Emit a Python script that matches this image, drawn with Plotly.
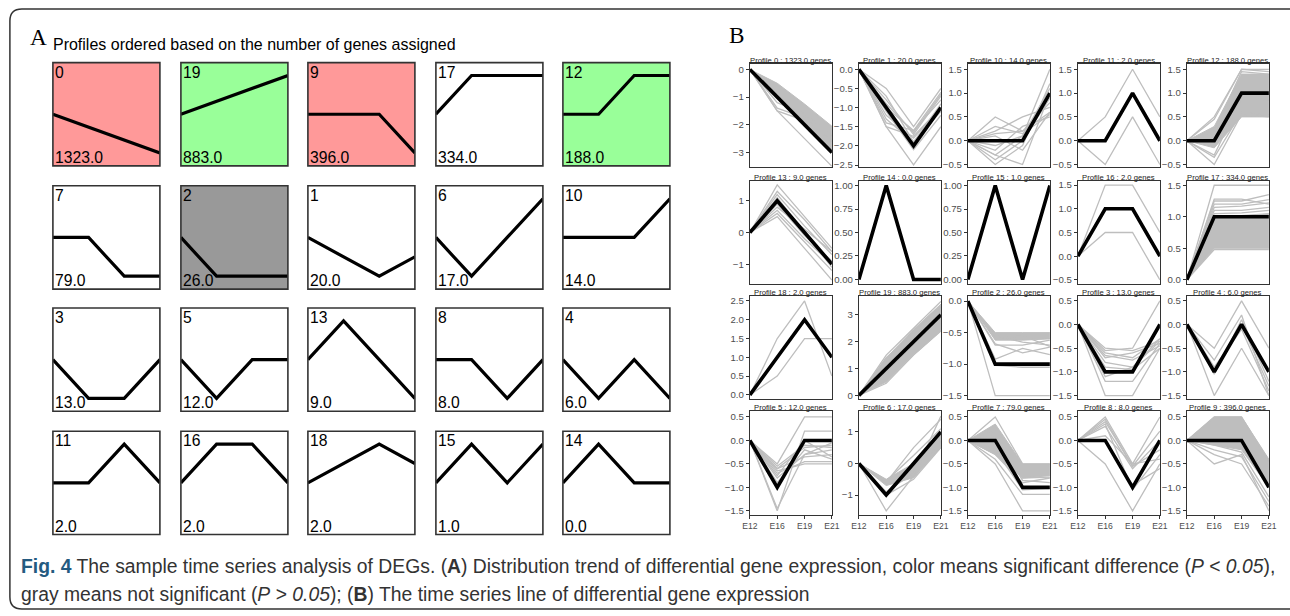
import plotly.graph_objects as go

# The photographed page is squeezed horizontally (x_photo = 8.1 + 0.9876 * x_page),
# while the vertical axis is kept as is; reference x positions are mapped through it.
W, H = 1290, 616
S = 0.9876
OX = 8.1


def fx(x):
    return ((x - OX) / S) / W


def fy(y):
    return 1 - y / H


def k(v):
    return v / S


time_points = ["E12", "E16", "E19", "E21"]

profile_models = {
    0: [0, -1, -2, -3], 1: [0, -1, -2, -1], 2: [0, -1, -1, -1], 3: [0, -1, -1, 0],
    4: [0, -1, 0, -1], 5: [0, -1, 0, 0], 6: [0, -1, 0, 1], 7: [0, 0, -1, -1],
    8: [0, 0, -1, 0], 9: [0, 0, 0, -1], 10: [0, 0, 0, 1], 11: [0, 0, 1, 0],
    12: [0, 0, 1, 1], 13: [0, 1, 0, -1], 14: [0, 1, 0, 0], 15: [0, 1, 0, 1],
    16: [0, 1, 1, 0], 17: [0, 1, 1, 1], 18: [0, 1, 2, 1], 19: [0, 1, 2, 3],
}

panel_a_ids = [0, 19, 9, 17, 12, 7, 2, 1, 6, 10, 3, 5, 13, 8, 4, 11, 16, 18, 15, 14]
panel_a_counts = [1323.0, 883.0, 396.0, 334.0, 188.0, 79.0, 26.0, 20.0, 17.0, 14.0,
                  13.0, 12.0, 9.0, 8.0, 6.0, 2.0, 2.0, 2.0, 1.0, 0.0]
panel_a_status = ["down", "up", "down", "none", "up", "none", "ns", "none", "none", "none",
                  "none", "none", "none", "none", "none", "none", "none", "none", "none", "none"]
status_colors = {"down": "#FF9999", "up": "#99FF99", "ns": "#999999", "none": "#FFFFFF"}

panel_b_ids = [0, 1, 10, 11, 12, 13, 14, 15, 16, 17, 18, 19, 2, 3, 4, 5, 6, 7, 8, 9]

gene_bands = {
    0: ([0, -0.5, -1.25, -2.05], [0, -1.05, -2.05, -3.0]),
    12: ([0, 0.3, 1.4, 1.4], [0, -0.15, 0.5, 0.5]),
    17: ([0, 1.02, 1.02, 1.05], [0, 0.5, 0.5, 0.5]),
    19: ([0, 1.4, 2.45, 3.4], [0, 0.5, 1.5, 2.4]),
    2: ([0, -0.5, -0.5, -0.5], [0, -0.62, -0.62, -0.6]),
    6: ([0, -0.5, 0.0, 1.0], [0, -0.7, -0.45, 0.5]),
    7: ([0, 0.35, -0.5, -0.5], [0, -0.3, -0.8, -0.75]),
    9: ([0, 0.5, 0.5, -0.4], [0, -0.1, -0.2, -1.0]),
}

gene_lines = {
    0: [[0, -1.5, -2.5, -3.5], [0, -1.4, -1.75, -2.6], [0, -1.5, -1.85, -3.0], [0, -1.2, -1.6, -2.4]],
    1: [[0, -0.5, -1.5, -0.5], [0, -1.5, -2.5, -1.5], [0, -1.5, -1.75, -1.0], [0, -1.4, -1.6, -0.6],
        [0, -1.0, -1.6, -0.8], [0, -0.8, -1.7, -0.7], [0, -1.2, -1.8, -1.0], [0, -0.7, -1.9, -1.1],
        [0, -1.3, -1.9, -0.9], [0, -1.1, -2.1, -1.2], [0, -0.9, -1.65, -0.65]],
    10: [[0, 0.5, 0.2, 0.6], [0, 0.15, 0.2, 0.8], [0, 0.2, 0.5, 0.7], [0, -0.3, 0.1, 1.5],
         [0, -0.5, -0.1, 1.2], [0, -0.3, -0.5, 1.0], [0, -0.1, 0.1, 1.1], [0, 0.1, -0.2, 0.6],
         [0, -0.2, 0.3, 0.5], [0, -0.4, 0.0, 0.9], [0, 0.3, 0.15, 0.55]],
    11: [[0, 0.5, 1.5, 0.5], [0, -0.5, 0.5, -0.5]],
    12: [[0, 0.5, 1.5, 1.5], [0, 0.45, 1.5, 1.45], [0, -0.5, 0.55, 0.5], [0, -0.35, 0.6, 0.55],
         [0, -0.3, 0.9, 0.85], [0, 0.2, 1.45, 1.4]],
    13: [[0, 1.5, 0.5, -0.5], [0, 1.3, 0.4, -0.6], [0, 1.2, 0.2, -0.7], [0, 0.8, 0.1, -0.6],
         [0, 0.7, -0.2, -1.0], [0, 0.6, -0.3, -1.2], [0, 0.5, -0.5, -1.5], [0, 1.1, 0.0, -1.1],
         [0, 0.9, -0.1, -0.9]],
    14: [],
    15: [],
    16: [[0, 1.5, 1.5, 0.5], [0, 0.5, 0.5, -0.5]],
    17: [[0, 1.5, 1.5, 1.5], [0, 1.25, 1.25, 1.35], [0, 1.2, 1.2, 1.27], [0, 1.15, 1.17, 1.22],
         [0, 1.1, 1.1, 1.15], [0, 1.05, 1.06, 1.1], [0, 1.28, 1.28, 1.2], [0, 0.48, 0.48, 0.48]],
    18: [[0, 1.5, 2.5, 0.5], [0, 0.5, 1.5, 1.5]],
    19: [[0, 1.5, 2.5, 3.5], [0, 1.4, 2.3, 3.3], [0, 0.45, 1.5, 2.4]],
    2: [[0, -1.5, -1.5, -1.5], [0, -0.7, -0.7, -0.62], [0, -0.92, -0.75, -0.85], [0, -0.68, -0.82, -0.73],
        [0, -1.02, -1.05, -1.05], [0, -0.55, -0.65, -0.7], [0, -0.6, -0.55, -0.72]],
    3: [[0, -1.5, -1.5, -0.5], [0, -1.2, -1.2, -0.4], [0, -0.55, -0.5, 0.5], [0, -0.6, -0.7, -0.3],
        [0, -0.5, -0.55, -0.35], [0, -0.7, -0.6, -0.4], [0, -0.8, -0.9, -0.3], [0, -0.9, -0.95, -0.5],
        [0, -0.65, -0.75, -0.45], [0, -1.1, -0.9, -0.35]],
    4: [[0, -0.5, 0.5, -0.5], [0, -1.5, -0.5, -1.5], [0, -0.75, 0.2, -1.5], [0, -1.05, 0.1, -1.2],
        [0, -0.9, -0.1, -1.4], [0, -1.0, 0.0, -1.3]],
    5: [[0, -0.5, 0.5, 0.5], [0, -1.5, 0.2, 0.2], [0, -1.45, -0.3, -0.05], [0, -0.6, -0.35, -0.3],
        [0, -0.7, -0.45, -0.45], [0, -0.65, -0.5, -0.5], [0, -0.8, -0.3, -0.2], [0, -0.55, -0.1, -0.15],
        [0, -0.75, 0.0, -0.35], [0, -0.9, -0.2, -0.4], [0, -0.6, -0.15, -0.1]],
    6: [[0, -1.5, -0.4, 1.5], [0, -0.6, 0.5, 1.4], [0, -1.0, -0.5, 0.5], [0, -0.55, 0.25, 1.1],
        [0, -0.9, -0.3, 0.7]],
    7: [[0, 0.5, -0.5, -0.5], [0, -0.5, -1.5, -1.5], [0, -0.4, -1.15, -1.15], [0, -0.2, -1.05, -1.02],
        [0, 0.1, -0.85, -0.9], [0, -0.3, -0.9, -0.8], [0, 0.2, -0.8, -0.78]],
    8: [[0, 0.5, -0.5, 0.5], [0, -0.5, -1.5, -0.5], [0, 0.45, -0.55, 0.2], [0, 0.3, -0.6, 0.0],
        [0, 0.35, -1.05, -0.3], [0, 0.1, -0.5, -0.4], [0, 0.0, -0.95, -0.6], [0, 0.4, -0.55, -0.2]],
    9: [[0, -0.5, -0.3, -1.5], [0, -0.3, -0.5, -1.4], [0, -0.2, -0.35, -1.3], [0, 0.5, 0.5, -0.45],
        [0, -0.1, -0.25, -1.2]],
}

b_yrange = {
    0: [-3.52, 0.21], 1: [-2.55, 0.15], 10: [-0.55, 1.62], 11: [-0.55, 1.62], 12: [-0.55, 1.62],
    13: [-1.63, 1.63], 14: [-0.05, 1.05], 15: [-0.05, 1.05], 16: [-0.59, 1.59], 17: [-0.07, 1.57],
    18: [-0.12, 2.63], 19: [-0.15, 3.70], 2: [-1.56, 0.08], 3: [-1.58, 0.6], 4: [-1.58, 0.6],
    5: [-1.58, 0.62], 6: [-1.62, 1.65], 7: [-1.58, 0.62], 8: [-1.58, 0.62], 9: [-1.58, 0.62],
}
b_ticks = {
    0: ([0, -1, -2, -3], 0), 1: ([0, -0.5, -1, -1.5, -2, -2.5], 1),
    10: ([-0.5, 0, 0.5, 1, 1.5], 1), 11: ([-0.5, 0, 0.5, 1, 1.5], 1), 12: ([-0.5, 0, 0.5, 1, 1.5], 1),
    13: ([-1, 0, 1], 0), 14: ([0, 0.25, 0.5, 0.75, 1], 2), 15: ([0, 0.25, 0.5, 0.75, 1], 2),
    16: ([-0.5, 0, 0.5, 1, 1.5], 1), 17: ([0, 0.5, 1, 1.5], 1),
    18: ([0, 0.5, 1, 1.5, 2, 2.5], 1), 19: ([0, 1, 2, 3], 0),
    2: ([0, -0.5, -1, -1.5], 1), 3: ([0.5, 0, -0.5, -1, -1.5], 1), 4: ([0.5, 0, -0.5, -1, -1.5], 1),
    5: ([0.5, 0, -0.5, -1, -1.5], 1), 6: ([-1, 0, 1], 0), 7: ([0.5, 0, -0.5, -1, -1.5], 1),
    8: ([0.5, 0, -0.5, -1, -1.5], 1), 9: ([0.5, 0, -0.5, -1, -1.5], 1),
}

# geometry in reference pixels
A_LEFT = [53, 181, 308, 436, 563]
A_TOP = [62, 186, 309, 433]
A_W, A_H = 107, 104
B_LEFT = [750, 859, 968, 1078, 1187]
B_TOP = [63, 181, 297, 413]
B_W, B_H = 82, 104

SANS = "Liberation Sans, Arial, Helvetica, sans-serif"
SERIF = "Liberation Serif, Times New Roman, serif"
GRAY = "#BEBEBE"

fig = go.Figure()
axes_layout = {}
shapes = []
annotations = []
counter = [0]


def new_axes(left, top, w, h):
    counter[0] += 1
    n = counter[0]
    s = "" if n == 1 else str(n)
    axes_layout["xaxis" + s] = dict(domain=[fx(left), fx(left + w)], anchor="y" + s)
    axes_layout["yaxis" + s] = dict(domain=[fy(top + h), fy(top)], anchor="x" + s)
    return "xaxis" + s, "yaxis" + s, "x" + s, "y" + s


def fmt(v, d):
    return f"{v:.{d}f}".replace("-", "\u2212")


xs = list(range(len(time_points)))
count_of = dict(zip(panel_a_ids, panel_a_counts))

# ---------------- Panel A ----------------
for i, pid in enumerate(panel_a_ids):
    r, c = divmod(i, 5)
    xa, ya, xid, yid = new_axes(A_LEFT[c], A_TOP[r], A_W, A_H)
    vals = profile_models[pid]
    R = max(abs(v) for v in vals) * 52.0 / 39.0
    axes_layout[xa].update(range=[0, 3], visible=False, fixedrange=True)
    axes_layout[ya].update(range=[-R, R], visible=False, fixedrange=True)
    fig.add_trace(go.Scatter(x=xs, y=vals, xaxis=xid, yaxis=yid, mode="lines",
                             line=dict(color="black", width=3.2), hoverinfo="skip",
                             showlegend=False, cliponaxis=False))
    shapes.append(dict(type="rect", xref=xid + " domain", yref=yid + " domain",
                       x0=0, x1=1, y0=0, y1=1, fillcolor=status_colors[panel_a_status[i]],
                       line=dict(width=0), layer="below"))
    shapes.append(dict(type="rect", xref=xid + " domain", yref=yid + " domain",
                       x0=0, x1=1, y0=0, y1=1, fillcolor="rgba(0,0,0,0)",
                       line=dict(color="#333333", width=1.6), layer="above"))
    annotations.append(dict(text=str(pid), xref=xid + " domain", yref=yid + " domain",
                            x=0, y=1, xanchor="left", yanchor="top", showarrow=False,
                            xshift=0, yshift=1, font=dict(family=SANS, size=k(15.5), color="black")))
    annotations.append(dict(text=f"{panel_a_counts[i]:.1f}", xref=xid + " domain", yref=yid + " domain",
                            x=0, y=0, xanchor="left", yanchor="bottom", showarrow=False,
                            xshift=0, yshift=-2, font=dict(family=SANS, size=k(15.5), color="black")))

# ---------------- Panel B ----------------
for i, pid in enumerate(panel_b_ids):
    r, c = divmod(i, 5)
    xa, ya, xid, yid = new_axes(B_LEFT[c], B_TOP[r], B_W, B_H)
    tv, dec = b_ticks[pid]
    axes_layout[xa].update(range=[0, 3], showgrid=False, zeroline=False, fixedrange=True,
                           showline=True, mirror=True, linecolor="#333333", linewidth=1.1,
                           tickvals=xs, ticktext=time_points,
                           ticks="outside" if r == 3 else "", ticklen=3, tickcolor="#333333",
                           showticklabels=(r == 3),
                           tickfont=dict(family=SANS, size=k(8.5), color="#4D4D4D"))
    axes_layout[ya].update(range=b_yrange[pid], showgrid=False, zeroline=False, fixedrange=True,
                           showline=True, mirror=True, linecolor="#333333", linewidth=1.1,
                           tickvals=tv, ticktext=[fmt(v, dec) for v in tv],
                           ticks="outside", ticklen=k(3), tickcolor="#333333",
                           tickfont=dict(family=SANS, size=k(9.5), color="#4D4D4D"))
    if pid in gene_bands:
        hi, lo = gene_bands[pid]
        fig.add_trace(go.Scatter(x=xs + xs[::-1], y=hi + lo[::-1], xaxis=xid, yaxis=yid,
                                 mode="lines", fill="toself", fillcolor=GRAY,
                                 line=dict(color=GRAY, width=1), hoverinfo="skip", showlegend=False))
    lx, ly = [], []
    for g in gene_lines[pid]:
        lx += xs + [None]
        ly += g + [None]
    if lx:
        fig.add_trace(go.Scatter(x=lx, y=ly, xaxis=xid, yaxis=yid, mode="lines",
                                 line=dict(color=GRAY, width=1.3), hoverinfo="skip", showlegend=False))
    fig.add_trace(go.Scatter(x=xs, y=profile_models[pid], xaxis=xid, yaxis=yid, mode="lines",
                             line=dict(color="black", width=3.6), hoverinfo="skip", showlegend=False))
    annotations.append(dict(text=f"Profile {pid} : {count_of[pid]:.1f} genes",
                            xref=xid + " domain", yref=yid + " domain", x=0.5, y=1,
                            xanchor="center", yanchor="bottom", showarrow=False, yshift=-3,
                            font=dict(family=SANS, size=k(7.6), color="#222222")))

# ---------------- labels, caption, frame ----------------
annotations += [
    dict(text="A", xref="paper", yref="paper", x=fx(28), y=fy(36), xanchor="left",
         yanchor="middle", showarrow=False, font=dict(family=SERIF, size=k(23), color="black")),
    dict(text="Profiles ordered based on the number of genes assigned", xref="paper", yref="paper",
         x=fx(51), y=fy(44), xanchor="left", yanchor="middle", showarrow=False,
         font=dict(family=SANS, size=k(15.8), color="black")),
    dict(text="B", xref="paper", yref="paper", x=fx(727), y=fy(34), xanchor="left",
         yanchor="middle", showarrow=False, font=dict(family=SERIF, size=k(23), color="black")),
]

cap1 = ("<b><span style='color:#245a80'>Fig. 4</span></b> The sample time series analysis of DEGs. "
        "(<b>A</b>) Distribution trend of differential gene expression, color means significant "
        "difference (<i>P</i> &lt; <i>0.05</i>),")
cap2 = ("gray means not significant (<i>P</i> &gt; <i>0.05</i>); (<b>B</b>) The time series line "
        "of differential gene expression")
annotations += [
    dict(text=cap1, xref="paper", yref="paper", x=fx(19), y=fy(569), xanchor="left",
         yanchor="middle", showarrow=False, font=dict(family=SANS, size=k(19.1), color="#333333")),
    dict(text=cap2, xref="paper", yref="paper", x=fx(19), y=fy(597), xanchor="left",
         yanchor="middle", showarrow=False, font=dict(family=SANS, size=k(19.1), color="#333333")),
]


def pt(x, y):
    return f"{fx(x):.5f},{fy(y):.5f}"


frame = (f"M {pt(1320, 8)} L {pt(22, 8)} Q {pt(10, 8)} {pt(10, 20)} "
         f"L {pt(10, 600)} Q {pt(10, 612)} {pt(22, 612)} L {pt(1320, 612)}")
shapes.append(dict(type="path", xref="paper", yref="paper", path=frame,
                   line=dict(color="#333333", width=1.5), layer="above"))

fig.update_layout(width=W, height=H, margin=dict(l=0, r=0, t=0, b=0),
                  paper_bgcolor="white", plot_bgcolor="white", showlegend=False,
                  shapes=shapes, annotations=annotations, **axes_layout)

css_fix = ("var s=document.createElement('style');"
           "s.innerHTML='html,body{margin:0;padding:0;overflow:hidden;}';"
           "document.head.appendChild(s);")
fig.write_html("out.html", config={"displayModeBar": False, "staticPlot": True},
               post_script=css_fix)
